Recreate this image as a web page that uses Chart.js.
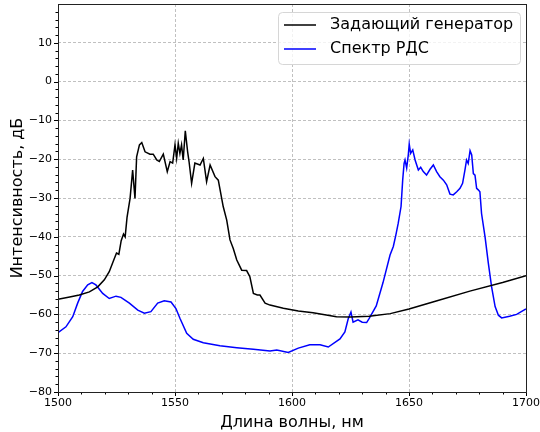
<!DOCTYPE html>
<html>
<head>
<meta charset="utf-8">
<script src="https://cdn.jsdelivr.net/npm/chart.js@4/dist/chart.umd.min.js"></script>
<style>
html,body{margin:0;padding:0;background:#fff;}
#wrap{width:540px;height:432px;}
</style>
</head>
<body>
<div id="wrap"><canvas id="c" width="540" height="432"></canvas></div>
<script>
// ---- data ----
const seriesLabels = ["Задающий генератор", "Спектр РДС"];
const xTitle = "Длина волны, нм";
const yTitle = "Интенсивность, дБ";

const genWavelength = [1500,1505,1509.1,1513.4,1517,1519.8,1521.9,1523.5,1525,1526,1527,1528,1528.7,1529.5,1530.8,1531.9,1532.9,1533.6,1534.8,1535.8,1537.2,1539.3,1540.7,1542.2,1543.3,1545,1546.7,1547.9,1549,1550,1550.7,1551.4,1552.1,1552.8,1553.5,1554.4,1555.4,1556,1557.1,1558.5,1560.7,1562.1,1563.5,1565,1567.1,1568.5,1570.6,1572.1,1573.5,1574.9,1576.4,1578.5,1580.6,1582,1583.5,1585.2,1586.3,1588.5,1590.6,1596.3,1602.7,1609,1619,1625,1633,1642,1650,1662,1676,1690,1700];
const genPower = [-56.1,-55.5,-55,-54.2,-52.9,-51.1,-49,-46.5,-44.2,-44.5,-41,-39.3,-40,-35,-30.1,-22.8,-30.1,-19.4,-16.3,-15.7,-18.1,-18.7,-18.7,-20.2,-20.6,-18.7,-23.2,-20.6,-21,-16.3,-19.8,-15.9,-18.5,-16.3,-20.2,-12.7,-18.1,-20.6,-26.2,-21,-21.5,-19.8,-25.8,-21.5,-24.5,-25.4,-32.2,-35.7,-40.8,-43,-46,-48.6,-48.7,-50.3,-54.6,-55,-55,-57.1,-57.6,-58.4,-59.1,-59.6,-60.6,-60.7,-60.5,-59.8,-58.6,-56.5,-54,-51.8,-50];

const rdsWavelength = [1500,1503.4,1506.3,1508.4,1510.5,1512.7,1514.5,1516.2,1519.1,1521.9,1524.8,1526.9,1530.5,1534.1,1536.9,1539.7,1542.6,1545.4,1548.3,1550.4,1552.1,1555,1557.8,1562.1,1569.2,1576.4,1583.5,1590.6,1593.5,1598.4,1602.7,1607.6,1612,1615.5,1620.5,1622.6,1624,1625.2,1626.1,1628.2,1630,1631.9,1633,1636,1638.9,1641.9,1643.3,1644.4,1645.4,1646.6,1647.3,1647.9,1648.3,1649,1649.7,1650.1,1650.7,1651.6,1652.6,1654,1655,1656.1,1657.5,1659,1660.4,1661.8,1663.2,1664.7,1666.1,1667.5,1668.9,1670.4,1671.8,1672.9,1673.9,1674.6,1675.3,1676.1,1676.8,1677.5,1678.2,1678.9,1679.6,1680.3,1681,1682.5,1683.9,1685.3,1686.8,1688.2,1689.6,1693,1696,1700];
const rdsPower = [-64.7,-63.2,-60.6,-57.1,-54.1,-52.4,-51.8,-52.4,-54.6,-55.9,-55.3,-55.6,-57.1,-58.9,-59.7,-59.3,-57.1,-56.5,-56.8,-58.5,-61,-64.9,-66.4,-67.3,-68.1,-68.6,-69,-69.4,-69.2,-69.8,-68.7,-67.8,-67.8,-68.4,-66.3,-64.5,-61.2,-59.4,-62,-61.4,-62,-62.1,-61,-57.8,-51.8,-44.7,-42.5,-39.5,-36.5,-32.2,-25.4,-21.1,-20.2,-22.3,-18.9,-16.1,-18.5,-17.6,-20.2,-22.8,-22.1,-23.2,-24.1,-22.6,-21.5,-23.2,-24.5,-25.4,-26.6,-29,-29.2,-28.4,-27.5,-26.2,-22.8,-20.2,-21.1,-17.8,-18.9,-23.7,-24.1,-27.5,-27.9,-28.4,-34,-40,-46.8,-52.9,-58,-60.2,-60.9,-60.5,-60,-58.6];

const xTicks = [1500,1550,1600,1650,1700];
const yTicks = [-80,-70,-60,-50,-40,-30,-20,-10,0,10];

// ---- chart ----
const FONT = "'DejaVu Sans', sans-serif";
const toPts = (xs, ys) => xs.map((x, i) => ({x: x, y: ys[i]}));
const noPad = s => { s.paddingTop = 0; s.paddingBottom = 0; s.paddingLeft = 0; s.paddingRight = 0; };

const framePlugin = {
  id: 'frame',
  afterDraw(chart) {
    const ctx = chart.ctx, a = chart.chartArea;
    const xs = chart.scales.x, ys = chart.scales.y;
    ctx.save();
    ctx.strokeStyle = '#000';
    ctx.lineWidth = 1;
    ctx.setLineDash([]);
    ctx.beginPath();
    for (let v = 1500; v <= 1700; v += 10) {
      const px = Math.round(xs.getPixelForValue(v)) + 0.5;
      const len = (v % 50 === 0) ? 4 : 2.5;
      ctx.moveTo(px, a.bottom); ctx.lineTo(px, a.bottom + len);
    }
    for (let v = -80; v < 20; v += 2) {
      const py = Math.round(ys.getPixelForValue(v)) + 0.5;
      const len = (v % 10 === 0) ? 4 : 2.5;
      ctx.moveTo(a.left, py); ctx.lineTo(a.left - len, py);
    }
    ctx.stroke();
    ctx.strokeStyle = '#222';
    ctx.strokeRect(Math.round(a.left) + 0.5, Math.round(a.top) + 0.5, Math.round(a.right - a.left), Math.round(a.bottom - a.top));
    // legend
    const bx = 278.5, by = 12.5, bw = 242, bh = 52, r = 4;
    ctx.fillStyle = 'rgba(255,255,255,0.8)';
    ctx.strokeStyle = '#d6d6d6';
    ctx.beginPath();
    ctx.moveTo(bx + r, by); ctx.lineTo(bx + bw - r, by); ctx.arcTo(bx + bw, by, bx + bw, by + r, r);
    ctx.lineTo(bx + bw, by + bh - r); ctx.arcTo(bx + bw, by + bh, bx + bw - r, by + bh, r);
    ctx.lineTo(bx + r, by + bh); ctx.arcTo(bx, by + bh, bx, by + bh - r, r);
    ctx.lineTo(bx, by + r); ctx.arcTo(bx, by, bx + r, by, r);
    ctx.closePath(); ctx.fill(); ctx.stroke();
    ctx.font = '16px ' + FONT;
    ctx.textBaseline = 'middle';
    chart.data.datasets.forEach((ds, i) => {
      const yy = 25 + i * 24;
      ctx.strokeStyle = ds.borderColor; ctx.lineWidth = 1.5;
      ctx.beginPath(); ctx.moveTo(284, yy); ctx.lineTo(316, yy); ctx.stroke();
      ctx.fillStyle = '#000';
      ctx.fillText(ds.label, 330, yy);
    });
    ctx.restore();
  }
};

new Chart(document.getElementById('c'), {
  type: 'line',
  data: {
    datasets: [
      {label: seriesLabels[0], data: toPts(genWavelength, genPower), borderColor: '#000000', borderWidth: 1.5, pointRadius: 0, tension: 0, fill: false},
      {label: seriesLabels[1], data: toPts(rdsWavelength, rdsPower), borderColor: '#0000ff', borderWidth: 1.5, pointRadius: 0, tension: 0, fill: false}
    ]
  },
  options: {
    responsive: false,
    animation: false,
    layout: {padding: {top: 4, right: 14, left: 8, bottom: 0}},
    plugins: {legend: {display: false}, tooltip: {enabled: false}},
    scales: {
      x: {
        type: 'linear', min: 1500, max: 1700,
        afterBuildTicks(s) { s.ticks = xTicks.map(v => ({value: v})); },
        afterFit(s) { s.height = 40; noPad(s); },
        ticks: {font: {family: FONT, size: 11}, color: '#000', padding: 5, maxRotation: 0,
          callback: v => String(v)},
        grid: {color: '#b0b0b0', lineWidth: 0.8, drawTicks: false},
        border: {display: false, dash: [3, 2]},
        title: {display: true, text: xTitle, font: {family: FONT, size: 16}, color: '#000', padding: {top: 2, bottom: 0}}
      },
      y: {
        type: 'linear', min: -80, max: 20,
        afterBuildTicks(s) { s.ticks = yTicks.map(v => ({value: v})); },
        afterFit(s) { s.width = 50; noPad(s); },
        ticks: {font: {family: FONT, size: 11}, color: '#000', padding: 6,
          callback: v => String(v).replace('-', '\u2212')},
        grid: {color: '#b0b0b0', lineWidth: 0.8, drawTicks: false},
        border: {display: false, dash: [3, 2]},
        title: {display: true, text: yTitle, font: {family: FONT, size: 16}, color: '#000', padding: {top: 0, bottom: 2}}
      }
    }
  },
  plugins: [framePlugin]
});
</script>
</body>
</html>
